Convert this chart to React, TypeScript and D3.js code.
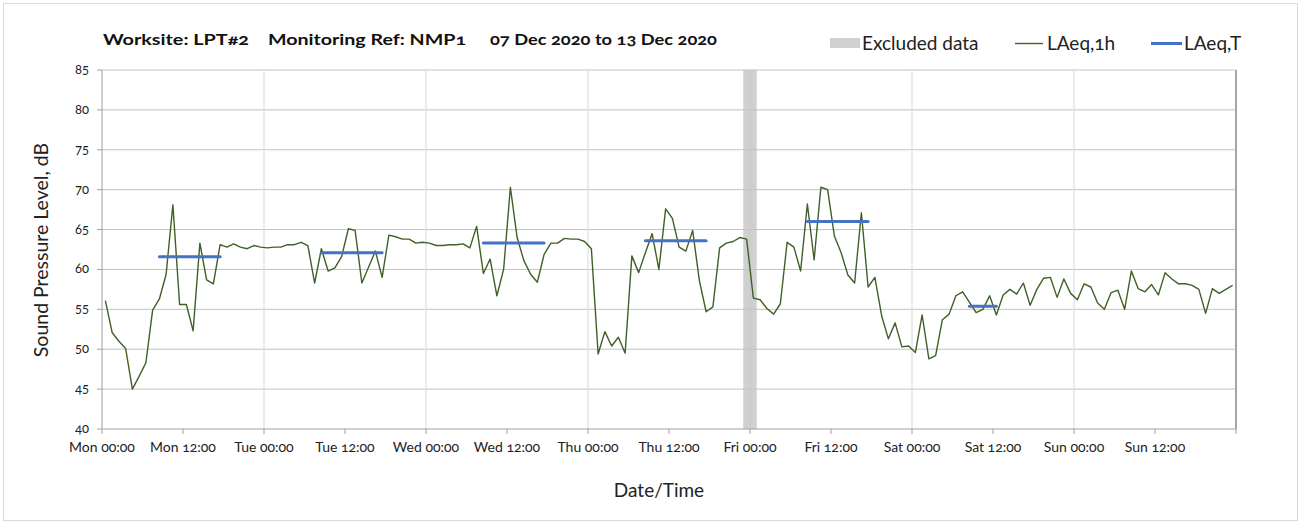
import React from "react";
import * as d3 from "d3";

// Hourly LAeq,1h values (Mon 00:00 .. Sun 23:00)
const laeq1h: number[] = [
  56.1, 52.1, 51.0, 50.1, 45.0, 46.6, 48.3, 54.9, 56.3, 59.4, 68.1, 55.6, 55.6, 52.3, 63.3, 58.7, 58.2, 63.1, 62.8, 63.2, 62.8, 62.6, 63.0, 62.8,
  62.7, 62.8, 62.8, 63.1, 63.1, 63.4, 63.0, 58.3, 62.6, 59.8, 60.2, 61.6, 65.1, 64.9, 58.3, 60.3, 62.3, 59.0, 64.3, 64.1, 63.8, 63.8, 63.3, 63.4,
  63.3, 63.0, 63.0, 63.1, 63.1, 63.2, 62.7, 65.4, 59.5, 61.3, 56.7, 60.0, 70.3, 64.0, 61.1, 59.4, 58.4, 61.9, 63.3, 63.3, 63.9, 63.8, 63.8, 63.5,
  62.6, 49.4, 52.2, 50.4, 51.5, 49.5, 61.7, 59.6, 62.1, 64.5, 60.0, 67.6, 66.4, 62.8, 62.3, 64.9, 58.6, 54.7, 55.3, 62.7, 63.3, 63.5, 64.0, 63.8,
  56.4, 56.2, 55.1, 54.4, 55.7, 63.4, 62.8, 59.8, 68.2, 61.2, 70.3, 70.0, 64.2, 62.1, 59.3, 58.3, 67.1, 57.8, 59.0, 54.2, 51.3, 53.3, 50.3, 50.4,
  49.6, 54.3, 48.8, 49.2, 53.7, 54.4, 56.7, 57.2, 55.9, 54.6, 55.0, 56.7, 54.3, 56.8, 57.5, 56.9, 58.3, 55.5, 57.5, 58.9, 59.0, 56.5, 58.8, 57.0,
  56.2, 58.2, 57.8, 55.8, 55.0, 57.1, 57.4, 55.0, 59.8, 57.6, 57.2, 58.1, 56.8, 59.6, 58.8, 58.2, 58.2, 58.0, 57.5, 54.5, 57.6, 57.0, 57.5, 58.0,
];

// LAeq,T period segments: first hour, last hour, level
const periodStart: number[] = [8, 32, 56, 80, 104, 128];
const periodEnd: number[] = [17, 41, 65, 89, 113, 132];
const periodLevel: number[] = [61.6, 62.1, 63.3, 63.6, 66.0, 55.4];

// Excluded data (hours)
const excludedStart: number[] = [95];
const excludedEnd: number[] = [97];

const xTickLabels: string[] = [
  "Mon 00:00", "Mon 12:00", "Tue 00:00", "Tue 12:00", "Wed 00:00", "Wed 12:00", "Thu 00:00",
  "Thu 12:00", "Fri 00:00", "Fri 12:00", "Sat 00:00", "Sat 12:00", "Sun 00:00", "Sun 12:00",
];
const yTicks: number[] = [40, 45, 50, 55, 60, 65, 70, 75, 80, 85];

const W = 1301;
const H = 524;
const FONT = "Lato, 'Open Sans', sans-serif";

export default function App() {
  const x = d3.scaleLinear().domain([0, 168]).range([102, 1236]);
  const y = d3.scaleLinear().domain([40, 85]).range([429, 70]);

  const line = d3
    .line<number>()
    .x((_, i) => x(i + 0.5))
    .y((d) => y(d));

  const dayGrid = d3.range(24, 168, 24);
  const halfDayTicks = d3.range(0, 169, 12);

  return (
    <svg
      width={W}
      height={H}
      style={{ position: "absolute", left: 0, top: 0, background: "#fff", fontVariantNumeric: "oldstyle-nums" }}
      fontFamily={FONT}
    >
      <rect x={3.5} y={3.5} width={W - 7} height={H - 7} fill="#fff" stroke="#d9d9d9" />

      {/* horizontal grid */}
      {yTicks.slice(1).map((t) => (
        <line key={"hg" + t} x1={x(0)} x2={x(168)} y1={y(t)} y2={y(t)} stroke="#c3c3c3" strokeWidth={1} />
      ))}
      {/* vertical grid */}
      {dayGrid.map((h) => (
        <line key={"vg" + h} x1={x(h)} x2={x(h)} y1={y(85)} y2={y(40)} stroke="#dedede" strokeWidth={1.2} />
      ))}

      {/* excluded band */}
      {excludedStart.map((s, i) => (
        <rect
          key={"ex" + i}
          x={x(s)}
          y={y(85)}
          width={x(excludedEnd[i]) - x(s)}
          height={y(40) - y(85)}
          fill="#c4c4c4"
          opacity={0.8}
        />
      ))}

      {/* right border */}
      <line x1={x(168)} x2={x(168)} y1={y(85)} y2={y(40)} stroke="#a6a6a6" strokeWidth={2} />

      {/* axes */}
      <line x1={x(0)} x2={x(0)} y1={y(85)} y2={y(40)} stroke="#a0a0a0" strokeWidth={1} />
      <line x1={x(0)} x2={x(168)} y1={y(40)} y2={y(40)} stroke="#a0a0a0" strokeWidth={1} />
      {yTicks.map((t) => (
        <g key={"yt" + t}>
          <line x1={x(0) - 5} x2={x(0)} y1={y(t)} y2={y(t)} stroke="#a0a0a0" />
          <text x={89} y={y(t) + 4} textAnchor="end" fontSize={13} fill="#222">
            {t}
          </text>
        </g>
      ))}
      {halfDayTicks.map((h) => (
        <line key={"xt" + h} x1={x(h)} x2={x(h)} y1={y(40)} y2={y(40) + 5} stroke="#a0a0a0" />
      ))}
      {xTickLabels.map((lab, i) => (
        <text key={"xl" + i} x={x(i * 12)} y={452} textAnchor="middle" fontSize={14} fill="#222">
          {lab}
        </text>
      ))}

      {/* data */}
      <path d={line(laeq1h) || ""} fill="none" stroke="#3f6026" strokeWidth={1.4} strokeLinejoin="round" />
      {periodStart.map((s, i) => (
        <line
          key={"p" + i}
          x1={x(s + 0.5)}
          x2={x(periodEnd[i] + 0.5)}
          y1={y(periodLevel[i])}
          y2={y(periodLevel[i])}
          stroke="#4472c4"
          strokeWidth={3}
          strokeLinecap="round"
        />
      ))}

      {/* axis titles */}
      <text x={659} y={497} textAnchor="middle" fontSize={19} fill="#222">
        Date/Time
      </text>
      <text transform="translate(48,250) rotate(-90)" textAnchor="middle" fontSize={19.5} fill="#222">
        Sound Pressure Level, dB
      </text>

      {/* title */}
      <g fontWeight="bold" fontSize={15.5} fill="#111">
        <text x={103} y={45} textLength={146} lengthAdjust="spacingAndGlyphs">Worksite: LPT#2</text>
        <text x={268} y={45} textLength={198} lengthAdjust="spacingAndGlyphs">Monitoring Ref: NMP1</text>
        <text x={490} y={45} textLength={227} lengthAdjust="spacingAndGlyphs">07 Dec 2020 to 13 Dec 2020</text>
      </g>

      {/* legend */}
      <rect x={830} y={38} width={30} height={10} fill="#d0d0d0" />
      <text x={862} y={50} fontSize={19} fill="#222">Excluded data</text>
      <line x1={1015} x2={1043} y1={43.5} y2={43.5} stroke="#3f6026" strokeWidth={1.4} />
      <text x={1047} y={50} fontSize={19} fill="#222">LAeq,1h</text>
      <line x1={1151} x2={1182} y1={43.5} y2={43.5} stroke="#4472c4" strokeWidth={3} />
      <text x={1184} y={50} fontSize={19} fill="#222">LAeq,T</text>
    </svg>
  );
}
